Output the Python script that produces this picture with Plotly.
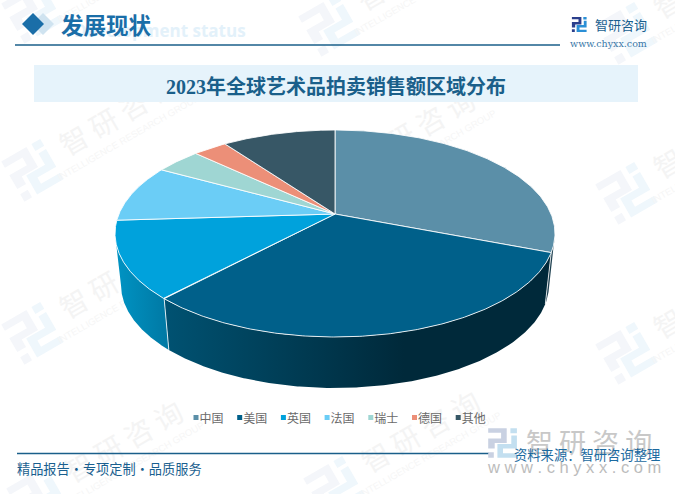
import math
import numpy as np
import plotly.graph_objects as go

# ---- data ----
categories = ["中国", "美国", "英国", "法国", "瑞士", "德国", "其他"]
shares = [30.9, 31.1, 12.1, 9.0, 4.0, 3.0, 10.0]

top_colors = ["#5b8fa8", "#00608a", "#00a2dc", "#6bcdf6", "#9fd6d3", "#ec8f78", "#375766"]
side_gradients = {
    "中国": ["#1d3f4f", "#1d3f4f"],
    "美国": ["#005272", "#00293a"],
    "英国": ["#0094c4", "#0078a3"],
}

W, H = 675, 494
CX, CY_APEX = 335, 214
CY_TOP, RX_TOP, RY_TOP = 233.5, 220, 103.5
CY_BOT, RX_BOT, RY_BOT = 285, 214, 103
UP, DOWN = 84.0, 123.0
a = (DOWN - UP) / (DOWN + UP)
B = UP * (1 + a)
A = RX_TOP * math.sqrt(1 - a * a)


def rim(theta):
    """Clockwise angle from the far point of the disc to page position (perspective)."""
    u, v = np.sin(theta), np.cos(theta)
    d = 1 + a * v
    return CX + A * u / d, CY_APEX - B * v / d


def to_bottom(x, y):
    return CX + (x - CX) * RX_BOT / RX_TOP, CY_BOT + (y - CY_TOP) * RY_BOT / RY_TOP


fig = go.Figure()
total = sum(shares)
edges = np.concatenate([[0], np.cumsum(shares)]) / total * 2 * math.pi

# sides
for i, name in enumerate(categories):
    if name not in side_gradients:
        continue
    t = np.linspace(edges[i], edges[i + 1], 240)
    x, y = rim(t)
    keep = y >= CY_TOP
    x, y = x[keep], y[keep]
    bx, by = to_bottom(x, y)
    px = np.concatenate([x, bx[::-1], x[:1]])
    py = np.concatenate([y, by[::-1], y[:1]])
    c0, c1 = side_gradients[name]
    scale = [[0, c0], [0.62, c1], [1, c1]] if name == "美国" else [[0, c0], [1, c1]]
    grad = dict(type="horizontal", colorscale=scale, start=float(px.min()), stop=float(px.max()))
    fig.add_trace(go.Scatter(x=px, y=py, mode="lines", fill="toself",
                             line=dict(width=0, color=c1), fillgradient=grad,
                             hoverinfo="skip", showlegend=False))

# vertical white seams on the side wall
for e in edges[1:3]:
    x, y = rim(np.array([e]))
    bx, by = to_bottom(x, y)
    fig.add_trace(go.Scatter(x=[x[0], bx[0]], y=[y[0], by[0]], mode="lines",
                             line=dict(width=1, color="rgba(255,255,255,0.8)"),
                             hoverinfo="skip", showlegend=False))

# top faces
for i, name in enumerate(categories):
    t = np.linspace(edges[i], edges[i + 1], 200)
    x, y = rim(t)
    fig.add_trace(go.Scatter(x=np.concatenate([[CX], x, [CX]]),
                             y=np.concatenate([[CY_APEX], y, [CY_APEX]]),
                             mode="lines", fill="toself", fillcolor=top_colors[i],
                             line=dict(width=1, color="rgba(255,255,255,0.85)"),
                             name=name, hoverinfo="name", showlegend=False))

# legend
lx = [196 + i * 43.7 for i in range(len(categories))]
fig.add_trace(go.Scatter(x=lx, y=[417.5] * len(lx), mode="markers",
                         marker=dict(symbol="square", size=5, color=top_colors),
                         hoverinfo="skip", showlegend=False))
fig.add_trace(go.Scatter(x=[v + 3.5 for v in lx], y=[420] * len(lx), mode="text", text=categories,
                         textposition="middle right",
                         textfont=dict(size=12, color="#6a6a6a", family="Noto Sans CJK SC"),
                         hoverinfo="skip", showlegend=False))


# ---- decoration ----
NAVY = [(0, 0), (10, 0), (10, 8), (3.5, 8), (3.5, 11), (0, 11), (0, 5.5), (7, 5.5), (7, 2.5), (0, 2.5)]
DOT1 = [(0, 13), (3, 13), (3, 16), (0, 16)]
BLUE = [(12.5, 4), (15.5, 4), (15.5, 11), (8, 11), (8, 13.5), (15.5, 13.5), (15.5, 16), (5, 16), (5, 8.5), (12.5, 8.5)]
DOT2 = [(12, 0), (15.5, 0), (15.5, 2.7), (12, 2.7)]


def poly(pts, cx, cy, s, deg=0.0):
    r = math.radians(deg)
    out = []
    for px, py in pts:
        dx, dy = (px - 8) * s, (py - 8) * s
        out.append((cx + dx * math.cos(r) - dy * math.sin(r), cy + dx * math.sin(r) + dy * math.cos(r)))
    return "M" + "L".join(f"{p[0]:.1f},{p[1]:.1f}" for p in out) + "Z"


def logo(cx, cy, s, deg, c1, c2, layer="below"):
    return [dict(type="path", path=poly(NAVY, cx, cy, s, deg) + poly(DOT1, cx, cy, s, deg),
                 fillcolor=c1, line=dict(width=0), layer=layer),
            dict(type="path", path=poly(BLUE, cx, cy, s, deg) + poly(DOT2, cx, cy, s, deg),
                 fillcolor=c2, line=dict(width=0), layer=layer)]


shapes = []
wm_logos = [(33, 12), (33, 170), (33, 333), (38, 497),
            (330, 25), (330, 185), (330, 345), (335, 487),
            (627, 33), (627, 193), (627, 353)]
for (lxx, lyy) in wm_logos:
    shapes += logo(lxx, lyy, 2.9, -30, "#f4f6fa", "#eff7fc")
    shapes.append(dict(type="rect", x0=lxx + 86, x1=lxx + 88, y0=lyy - 54, y1=lyy - 52,
                       line=dict(width=0), fillcolor="rgba(0,0,0,0)", layer="below",
                       label=dict(text="智 研 咨 询", textangle=-30, textposition="middle center",
                                  font=dict(size=28, color="#f4f4f4", family="Noto Sans CJK SC"))))
    shapes.append(dict(type="rect", x0=lxx + 94, x1=lxx + 96, y0=lyy - 34, y1=lyy - 32,
                       line=dict(width=0), fillcolor="rgba(0,0,0,0)", layer="below",
                       label=dict(text="INTELLIGENCE RESEARCH GROUP", textangle=-30, textposition="middle center",
                                  font=dict(size=9.5, color="#f6f6f6", family="Liberation Sans"))))

BLUE_LINE = "#1a5f8a"
shapes += [
    dict(type="path", path="M43,13L54,24L43,35L32,24Z", fillcolor="#cfe3f0", line=dict(width=0)),
    dict(type="path", path="M33,13L44,24L33,35L22,24Z", fillcolor="#1a6ea8", line=dict(width=0)),
    dict(type="line", x0=15, x1=560, y0=45, y1=45, line=dict(color=BLUE_LINE, width=1.3)),
    dict(type="rect", x0=34, x1=638, y0=65, y1=102, fillcolor="#e6f3fb", line=dict(width=0), layer="below"),
    dict(type="line", x0=17, x1=489, y0=453.5, y1=453.5, line=dict(color=BLUE_LINE, width=1.3)),
]
shapes += logo(579.5, 24.5, 0.95, 0, "#2b3f8c", "#2a8fd6", layer="above")
shapes += logo(503, 443, 1.85, 0, "#c9d1e2", "#c3dff0", layer="above")

CJK = "Noto Sans CJK SC"


def note(x, y, text, size, color, anchor="left", family=CJK):
    return dict(x=x, y=y, xref="x", yref="y", text=text, showarrow=False, xanchor=anchor, yanchor="middle",
                font=dict(size=size, color=color, family=family), borderpad=0, borderwidth=0)


annotations = [
    note(246, 30, "<b>Development status</b>", 17, "#e3f1fa", "right", "Open Sans"),
    note(61, 24, "<b>发展现状</b>", 22.5, "#1a6ea8"),
    note(336, 86, "<b>2023年全球艺术品拍卖销售额区域分布</b>", 20, "#1a5f8a", "center", "Liberation Serif, " + CJK),
    note(595, 24, "智研咨询", 13, "#1a5f8f"),
    note(570, 43, "www.chyxx.com", 9.5, "#3a78a8", family="DejaVu Serif"),
    note(589, 441, "智 研 咨 询", 27, "#c8c8c8", "center"),
    note(574, 467, "w w w . c h y x x . c o m", 16.5, "#bcbcbc", "center", "Liberation Sans"),
    note(514, 454, "资料来源：智研咨询整理", 13.3, "#1b6aa0"),
    note(17, 468, "精品报告·专项定制·品质服务", 13.2, "#1a5f8f"),
]

fig.update_layout(
    width=W, height=H, autosize=False,
    margin=dict(l=0, r=0, t=0, b=0),
    paper_bgcolor="white", plot_bgcolor="rgba(0,0,0,0)",
    xaxis=dict(range=[0, W], visible=False, fixedrange=True),
    yaxis=dict(range=[H, 0], visible=False, fixedrange=True),
    shapes=shapes, annotations=annotations, showlegend=False,
)
fig.write_html("out.html", config=dict(displayModeBar=False),
               post_script="document.body.style.margin='0';document.body.style.overflow='hidden';")
